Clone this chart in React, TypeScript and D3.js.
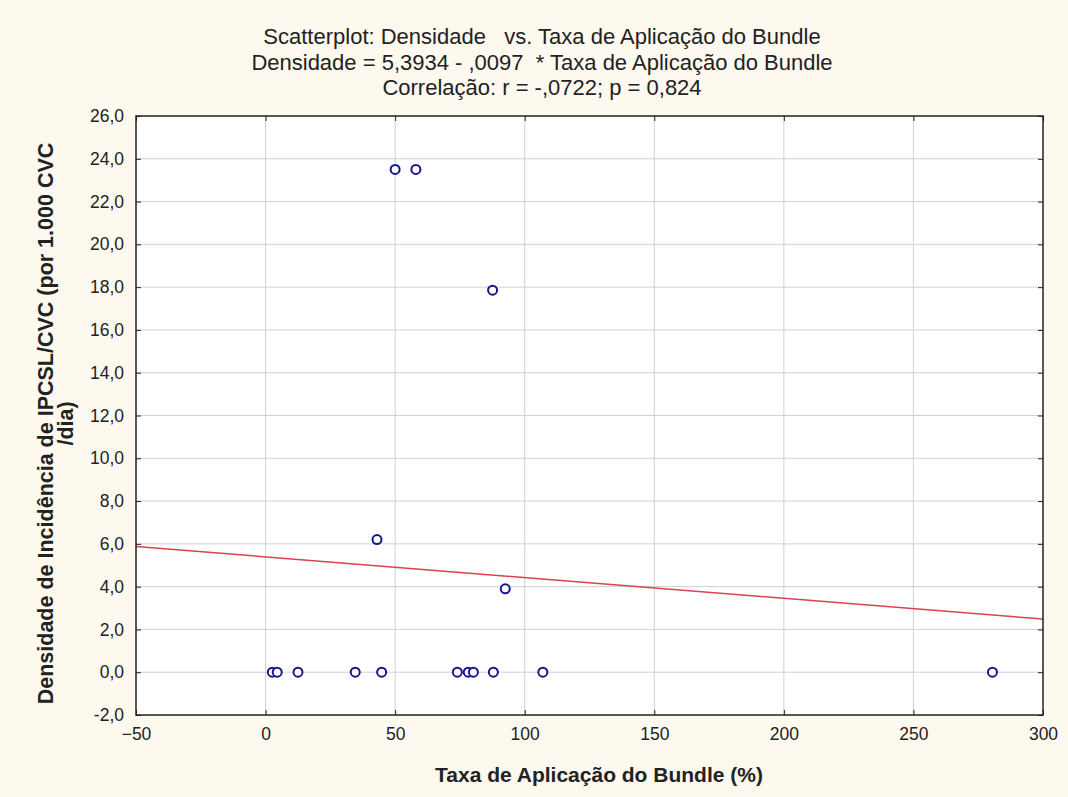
import React, { useRef, useEffect } from "react";
import * as d3 from "d3";

// Taxa de Aplicação do Bundle (%) and Densidade de Incidência
const taxaBundle = [2.6, 4.5, 12.5, 34.6, 44.8, 74, 78.2, 80.2, 87.9, 107, 280.5, 50, 58, 87.6, 43, 92.5];
const densidade = [0, 0, 0, 0, 0, 0, 0, 0, 0, 0, 0, 23.5, 23.5, 17.86, 6.2, 3.9];

const xTicks = [-50, 0, 50, 100, 150, 200, 250, 300];
const yTicks = [-2, 0, 2, 4, 6, 8, 10, 12, 14, 16, 18, 20, 22, 24, 26];

const intercept = 5.3934;
const slope = -0.0097;

const titleLines = [
  "Scatterplot: Densidade\u00a0\u00a0 vs. Taxa de Aplicação do Bundle",
  "Densidade = 5,3934 - ,0097\u00a0 * Taxa de Aplicação do Bundle",
  "Correlação: r = -,0722; p = 0,824",
];
const xTitle = "Taxa de Aplicação do Bundle (%)";
const yTitleLines = ["Densidade de Incidência de IPCSL/CVC (por 1.000 CVC", "/dia)"];

const W = 1068;
const H = 797;
const font = "Liberation Sans, Arial, sans-serif";

const App = () => {
  const ref = useRef<SVGSVGElement>(null);

  useEffect(() => {
    const margin = { top: 116, right: 25, bottom: 82, left: 136 };
    const width = W - margin.left - margin.right;
    const height = H - margin.top - margin.bottom;

    const svg = d3.select(ref.current);
    svg.selectAll("*").remove();
    svg.attr("width", W).attr("height", H);

    svg.append("rect").attr("width", W).attr("height", H).attr("fill", "#fdf9ee");

    const g = svg.append("g").attr("transform", `translate(${margin.left},${margin.top})`);

    const x = d3.scaleLinear().domain([-50, 300]).range([0, width]);
    const y = d3.scaleLinear().domain([-2, 26]).range([height, 0]);
    const fmt = (v: number) => v.toFixed(1).replace(".", ",");

    g.append("rect").attr("width", width).attr("height", height).attr("fill", "#ffffff");

    // grid
    g.append("g")
      .selectAll("line")
      .data(xTicks.slice(1, -1))
      .join("line")
      .attr("x1", d => x(d))
      .attr("x2", d => x(d))
      .attr("y1", 0)
      .attr("y2", height)
      .attr("stroke", "#cfcfda")
      .attr("stroke-width", 1);
    g.append("g")
      .selectAll("line")
      .data(yTicks.slice(1, -1))
      .join("line")
      .attr("x1", 0)
      .attr("x2", width)
      .attr("y1", d => y(d))
      .attr("y2", d => y(d))
      .attr("stroke", "#cfcfda")
      .attr("stroke-width", 1);

    // regression line
    g.append("line")
      .attr("x1", x(-50))
      .attr("y1", y(intercept + slope * -50))
      .attr("x2", x(300))
      .attr("y2", y(intercept + slope * 300))
      .attr("stroke", "#d8434f")
      .attr("stroke-width", 1.5);

    // points
    g.append("g")
      .selectAll("circle")
      .data(taxaBundle.map((t, i) => [t, densidade[i]]))
      .join("circle")
      .attr("cx", d => x(d[0]))
      .attr("cy", d => y(d[1]))
      .attr("r", 4.5)
      .attr("fill", "#ffffff")
      .attr("stroke", "#16168a")
      .attr("stroke-width", 2);

    // axes (ticks inside)
    const axisStyle = (sel: any) => {
      sel.select(".domain").remove();
      sel.selectAll(".tick line").attr("stroke", "#222");
      sel.selectAll(".tick text").attr("fill", "#222").style("font-family", font).style("font-size", "17.5px");
    };
    g.append("g")
      .attr("transform", `translate(0,${height})`)
      .call(d3.axisBottom(x).tickValues(xTicks).tickSizeInner(-5).tickSizeOuter(0).tickPadding(13))
      .call(axisStyle);
    g.append("g")
      .call(d3.axisLeft(y).tickValues(yTicks).tickFormat(d => fmt(+d)).tickSizeInner(-5).tickSizeOuter(0).tickPadding(12))
      .call(axisStyle);
    g.append("g")
      .attr("transform", `translate(${width},0)`)
      .call(d3.axisRight(y).tickValues(yTicks).tickFormat(() => "").tickSizeInner(-5).tickSizeOuter(0))
      .call(axisStyle);
    g.append("g")
      .call(d3.axisTop(x).tickValues(xTicks).tickFormat(() => "").tickSizeInner(-5).tickSizeOuter(0))
      .call(axisStyle);

    g.append("rect")
      .attr("width", width)
      .attr("height", height)
      .attr("fill", "none")
      .attr("stroke", "#222")
      .attr("stroke-width", 1.5);

    // titles
    svg.append("g")
      .selectAll("text")
      .data(titleLines)
      .join("text")
      .attr("x", 542)
      .attr("y", (d, i) => 44 + i * 25.5)
      .attr("text-anchor", "middle")
      .attr("fill", "#222")
      .style("font-family", font)
      .style("font-size", "22px")
      .text(d => d);

    svg.append("text")
      .attr("x", 599)
      .attr("y", 782)
      .attr("text-anchor", "middle")
      .attr("fill", "#222")
      .style("font-family", font)
      .style("font-size", "21px")
      .style("font-weight", "bold")
      .text(xTitle);

    svg.append("g")
      .attr("transform", `translate(0,${margin.top + height / 2 + 8}) rotate(-90)`)
      .selectAll("text")
      .data(yTitleLines)
      .join("text")
      .attr("x", 0)
      .attr("y", (d, i) => 53 + i * 20)
      .attr("text-anchor", "middle")
      .attr("fill", "#222")
      .style("font-family", font)
      .style("font-size", "21.5px")
      .style("font-weight", "bold")
      .text(d => d);
  }, []);

  return <svg ref={ref} style={{ position: "absolute", left: 0, top: 0 }}></svg>;
};

export default App;
